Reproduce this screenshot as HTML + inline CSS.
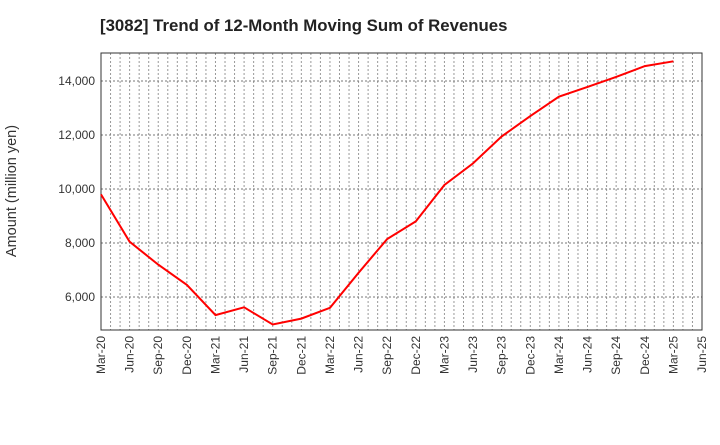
<!DOCTYPE html>
<html><head><meta charset="utf-8"><style>
body{margin:0;background:#fff;width:720px;height:440px;overflow:hidden;font-family:"Liberation Sans",sans-serif}
</style></head><body>
<svg id="chart" width="720" height="440" xmlns="http://www.w3.org/2000/svg">
<text x="100" y="31" font-size="16.8" font-weight="bold" fill="#222">[3082]  Trend of 12-Month Moving Sum of Revenues</text>
<text transform="translate(16,191) rotate(-90)" text-anchor="middle" font-size="14.5" fill="#333">Amount (million yen)</text>
<g id="grid"></g><g id="axes"></g><g id="series"></g>
</svg>
<script>
const categories=["Mar-20","Jun-20","Sep-20","Dec-20","Mar-21","Jun-21","Sep-21","Dec-21","Mar-22","Jun-22","Sep-22","Dec-22","Mar-23","Jun-23","Sep-23","Dec-23","Mar-24","Jun-24","Sep-24","Dec-24","Mar-25"];
const revenues=[9800,8050,7200,6450,5330,5620,4980,5200,5600,6900,8150,8800,10150,10950,11950,12700,13420,13780,14150,14550,14730];
const xTickLabels=["Mar-20","Jun-20","Sep-20","Dec-20","Mar-21","Jun-21","Sep-21","Dec-21","Mar-22","Jun-22","Sep-22","Dec-22","Mar-23","Jun-23","Sep-23","Dec-23","Mar-24","Jun-24","Sep-24","Dec-24","Mar-25","Jun-25"];
const yTicks=[6000,8000,10000,12000,14000];
const NS="http://www.w3.org/2000/svg";
const L=101,R=702,T=53,B=330,yMin=4778,yMax=15037;
const nQ=xTickLabels.length-1;
function xs(i){return L+(R-L)*i/nQ;}
function ys(v){return B-(v-yMin)/(yMax-yMin)*(B-T);}
function mk(tag,attrs,parent){const e=document.createElementNS(NS,tag);for(const k in attrs)e.setAttribute(k,attrs[k]);parent.appendChild(e);return e;}
const grid=document.getElementById('grid'),axes=document.getElementById('axes'),series=document.getElementById('series');
for(let m=1;m<nQ*3;m++){const x=L+(R-L)*m/(nQ*3);
const ln=mk('line',{x1:x,x2:x,y1:T,y2:B,stroke:'#999','stroke-width':1,'stroke-dasharray':'2,2'},grid);

}
yTicks.forEach(v=>{const y=ys(v);
const ln=mk('line',{x1:L,x2:R,y1:y,y2:y,stroke:'#777','stroke-width':1,'stroke-dasharray':'2,2'},grid);


const t=mk('text',{x:L-6,y:y+4,'text-anchor':'end','font-size':12,fill:'#333'},axes);t.textContent=v.toLocaleString('en-US');

});
xTickLabels.forEach((c,i)=>{const x=xs(i);
const t=mk('text',{transform:`translate(${x+4},${B+6}) rotate(-90)`,'text-anchor':'end','font-size':12,fill:'#333'},axes);t.textContent=c;

});
const frame=mk('rect',{x:L,y:T,width:R-L,height:B-T,fill:'none',stroke:'#333','stroke-width':1},axes);


const pts=revenues.map((v,i)=>xs(i).toFixed(1)+','+ys(v).toFixed(1)).join(' ');
const pl=mk('polyline',{points:pts,fill:'none',stroke:'#f00','stroke-width':2},series);


</script>
</body></html>
